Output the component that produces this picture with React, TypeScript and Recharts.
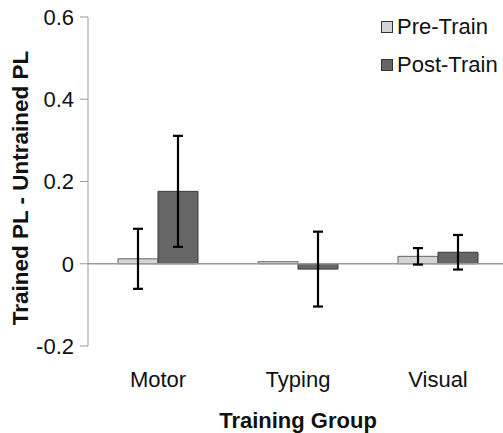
import { BarChart, Bar, XAxis, YAxis, ErrorBar, ReferenceLine, Legend } from "recharts";

const groups = ["Motor", "Typing", "Visual"];
const preTrain = [0.012, 0.005, 0.018];
const preErr = [0.073, 0, 0.02];
const postTrain = [0.176, -0.013, 0.028];
const postErr = [0.135, 0.091, 0.042];
const yTicks = [-0.2, 0, 0.2, 0.4, 0.6];
const seriesNames = ["Pre-Train", "Post-Train"];

const data = groups.map((g, i) => ({
  name: g,
  pre: preTrain[i],
  preErr: preErr[i],
  post: postTrain[i],
  postErr: postErr[i],
}));

const FONT = '"Liberation Sans", Arial, sans-serif';

const LegendBox = ({ payload }: any) => {
  const items = [...(payload || [])].sort(
    (a: any, b: any) => seriesNames.indexOf(a.value) - seriesNames.indexOf(b.value)
  );
  return (
    <div style={{ fontFamily: FONT }}>
      {items.map((p: any) => (
        <div
          key={p.value}
          style={{ display: "flex", alignItems: "center", height: 38, fontSize: 22, color: "#111" }}
        >
          <span
            style={{
              display: "inline-block",
              width: 10,
              height: 10,
              background: p.color,
              border: "1px solid #333",
              marginRight: 4,
            }}
          />
          {p.value}
        </div>
      ))}
    </div>
  );
};

const YLabel = () => (
  <text
    x={0}
    y={0}
    transform="translate(28, 188) rotate(-90)"
    textAnchor="middle"
    fontFamily={FONT}
    fontWeight="bold"
    fontSize={22.5}
    fill="#111"
  >
    Trained PL - Untrained PL
  </text>
);

export default function App() {
  return (
    <div
      style={{
        position: "absolute",
        left: 0,
        top: 0,
        width: 503,
        height: 433,
        overflow: "hidden",
        background: "#fff",
      }}
    >
      <BarChart
        width={508}
        height={433}
        data={data}
        margin={{ top: 17, right: 0, bottom: 0, left: 0 }}
        barCategoryGap={30}
        barGap={0}
      >
        <XAxis
          dataKey="name"
          axisLine={false}
          tickLine={false}
          tickSize={0}
          tickMargin={25}
          height={87}
          tick={{ fontSize: 22, fontFamily: FONT, fill: "#111" }}
          label={{
            value: "Training Group",
            position: "insideBottom",
            offset: 5,
            fontSize: 22,
            fontWeight: "bold",
            fontFamily: FONT,
            fill: "#111",
          }}
        />
        <YAxis
          width={88}
          domain={[-0.2, 0.6]}
          ticks={yTicks}
          interval={0}
          tickSize={8}
          tickMargin={6}
          stroke="#999"
          tick={{ fontSize: 22, fontFamily: FONT, fill: "#111" }}
          label={<YLabel />}
        />
        <ReferenceLine y={0} stroke="#999" strokeWidth={1.5} />
        <Legend
          layout="vertical"
          align="center"
          verticalAlign="middle"
          content={<LegendBox />}
          wrapperStyle={{ position: "absolute", top: 8, left: 381, width: "auto" }}
        />
        <Bar dataKey="pre" name="Pre-Train" fill="#d4d4d4" stroke="#666" isAnimationActive={false}>
          <ErrorBar dataKey="preErr" width={5} stroke="#000" strokeWidth={2.2} />
        </Bar>
        <Bar dataKey="post" name="Post-Train" fill="#666" stroke="#3a3a3a" isAnimationActive={false}>
          <ErrorBar dataKey="postErr" width={5} stroke="#000" strokeWidth={2.2} />
        </Bar>
      </BarChart>
    </div>
  );
}
